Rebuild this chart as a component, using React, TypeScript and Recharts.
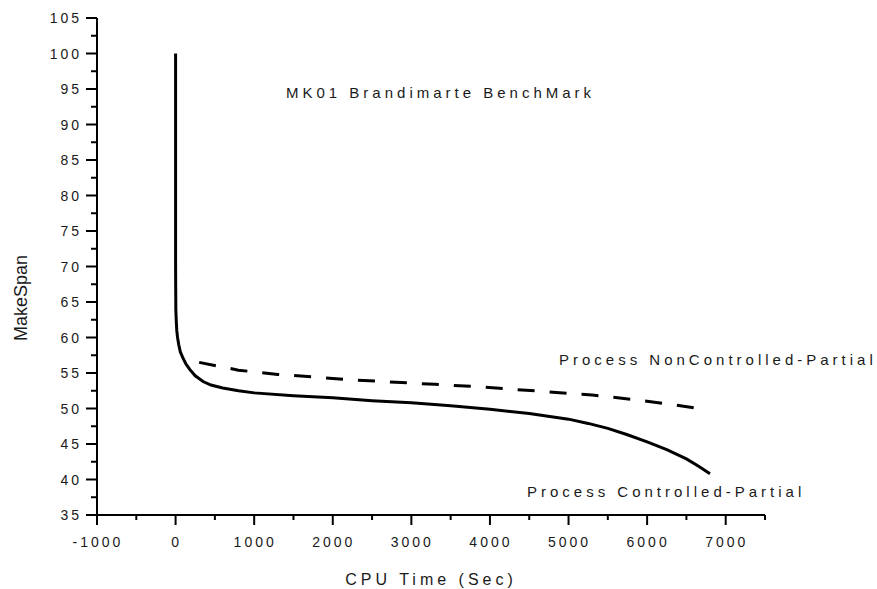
import React from "react";
import { LineChart, Line, XAxis, YAxis } from "recharts";

// Process Controlled-Partial (solid)
const ctrlX = [0, 0, 3, 8, 15, 25, 40, 60, 90, 130, 180, 250, 350, 450, 600, 800, 1000, 1500, 2000, 2500, 3000, 3500, 4000, 4500, 5000, 5250, 5500, 5750, 6000, 6250, 6500, 6650, 6800];
const ctrlY = [100, 70, 64, 62.5, 61, 60, 59, 58, 57.2, 56.3, 55.5, 54.6, 53.8, 53.3, 52.9, 52.5, 52.2, 51.8, 51.5, 51.1, 50.8, 50.4, 49.9, 49.3, 48.5, 47.9, 47.2, 46.3, 45.3, 44.2, 42.9, 41.9, 40.8];

// Process NonControlled-Partial (dashed)
const ncX = [300, 800, 1300, 1800, 2300, 2800, 3300, 3800, 4300, 4800, 5300, 5800, 6300, 6600];
const ncY = [56.5, 55.4, 54.8, 54.4, 54.0, 53.7, 53.4, 53.1, 52.7, 52.3, 51.9, 51.3, 50.6, 50.1];

const xTicks = [-1000, -500, 0, 500, 1000, 1500, 2000, 2500, 3000, 3500, 4000, 4500, 5000, 5500, 6000, 6500, 7000, 7500];
const xLabels = [-1000, 0, 1000, 2000, 3000, 4000, 5000, 6000, 7000];
const yTicks = [35, 37.5, 40, 42.5, 45, 47.5, 50, 52.5, 55, 57.5, 60, 62.5, 65, 67.5, 70, 72.5, 75, 77.5, 80, 82.5, 85, 87.5, 90, 92.5, 95, 97.5, 100, 102.5, 105];

const ctrlData = ctrlX.map((x, i) => ({ x, y: ctrlY[i] }));
const ncData = ncX.map((x, i) => ({ x, y: ncY[i] }));

const FONT = "'Liberation Sans', Arial, sans-serif";
const TXT = "#1a1a1a";

function XTick(props: any) {
  const { x, y, payload } = props;
  const major = xLabels.includes(payload.value);
  return (
    <g>
      <line x1={x} x2={x} y1={y} y2={y + (major ? 10 : 5)} stroke="#000" strokeWidth={2} />
      {major && (
        <text x={x + 1} y={y + 32} textAnchor="middle" fontFamily={FONT} fontSize={14} letterSpacing={3} fill={TXT}>
          {payload.value}
        </text>
      )}
    </g>
  );
}

function YTick(props: any) {
  const { x, y, payload } = props;
  const major = payload.value % 5 === 0;
  return (
    <g>
      <line x1={x} x2={x - (major ? 11 : 6)} y1={y} y2={y} stroke="#000" strokeWidth={2} />
      {major && (
        <text x={x - 15} y={y + 5} textAnchor="end" fontFamily={FONT} fontSize={14} letterSpacing={3} fill={TXT}>
          {payload.value}
        </text>
      )}
    </g>
  );
}

export default function App() {
  return (
    <div style={{ position: "absolute", left: 0, top: 0, width: 877, height: 589, background: "#fff" }}>
      <LineChart width={877} height={589} margin={{ top: 18, right: 112, bottom: 0, left: 0 }}>
        <XAxis
          type="number"
          dataKey="x"
          domain={[-1000, 7500]}
          ticks={xTicks}
          interval={0}
          allowDataOverflow
          height={74}
          tickSize={0}
          tickMargin={0}
          tickLine={false}
          axisLine={{ stroke: "#000", strokeWidth: 2 }}
          tick={<XTick />}
        />
        <YAxis
          type="number"
          dataKey="y"
          domain={[35, 105]}
          ticks={yTicks}
          interval={0}
          allowDataOverflow
          width={97}
          tickSize={0}
          tickMargin={0}
          tickLine={false}
          axisLine={{ stroke: "#000", strokeWidth: 2 }}
          tick={<YTick />}
        />
        <Line data={ctrlData} dataKey="y" type="linear" stroke="#000" strokeWidth={3} dot={false} isAnimationActive={false} />
        <Line data={ncData} dataKey="y" type="linear" stroke="#000" strokeWidth={3} strokeDasharray="17 15" dot={false} isAnimationActive={false} />
      </LineChart>
      <svg width={877} height={589} style={{ position: "absolute", left: 0, top: 0, pointerEvents: "none" }}>
        <text x={286} y={98} fontFamily={FONT} fontSize={15} letterSpacing={4} fill={TXT}>MK01 Brandimarte BenchMark</text>
        <text x={559} y={365} fontFamily={FONT} fontSize={15} letterSpacing={4} fill={TXT}>Process NonControlled-Partial</text>
        <text x={527} y={497} fontFamily={FONT} fontSize={15} letterSpacing={4} fill={TXT}>Process Controlled-Partial</text>
        <text x={431} y={585} textAnchor="middle" fontFamily={FONT} fontSize={16} letterSpacing={4} fill={TXT}>CPU Time (Sec)</text>
        <text x={27} y={298} textAnchor="middle" transform="rotate(-90 27 298)" fontFamily={FONT} fontSize={18} fill={TXT}>MakeSpan</text>
      </svg>
    </div>
  );
}
